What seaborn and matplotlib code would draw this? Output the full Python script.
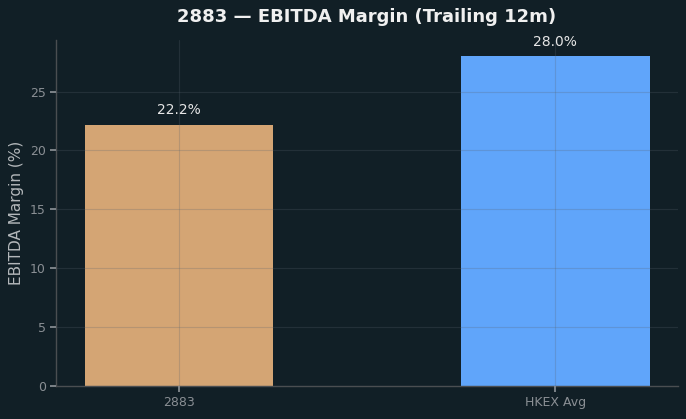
import pandas as pd
import seaborn as sns
import matplotlib.pyplot as plt

categorias = ['2883', 'HKEX Avg']
margens = [22.2, 28.0]
cores = ['#D4A574', '#60A5FA']

df = pd.DataFrame({'categoria': categorias, 'margem': margens})

fundo = '#111f26'
sns.set_theme(style='dark')
plt.rcParams['font.family'] = ['DejaVu Sans']

fig, ax = plt.subplots(figsize=(6.86, 4.19), dpi=100)
fig.patch.set_facecolor(fundo)
ax.set_facecolor(fundo)

sns.barplot(data=df, x='categoria', y='margem', hue='categoria',
            palette=cores, width=0.5, legend=False, ax=ax, saturation=1,
            linewidth=0, edgecolor='none')

for i, v in enumerate(margens):
    ax.text(i, v + 0.6, f'{v:.1f}%', ha='center', va='bottom',
            color='#e6e6e6', fontsize=10)

ax.set_xlim(-0.325, 1.325)
ax.set_axisbelow(False)
ax.grid(True, color='#5a6570', alpha=0.25, linewidth=0.8)
ax.set_title('2883 — EBITDA Margin (Trailing 12m)', color='#f0f0f0',
             fontsize=13, fontweight='bold', pad=13)
ax.set_xlabel('')
ax.set_ylabel('EBITDA Margin (%)', color='#b4b8bb', fontsize=11)
ax.tick_params(colors='#8a8f94', labelsize=9, length=4, left=True, bottom=True)
for s in ['top', 'right']:
    ax.spines[s].set_visible(False)
for s in ['left', 'bottom']:
    ax.spines[s].set_color('#4a4e51')
    ax.spines[s].set_linewidth(1)

plt.subplots_adjust(left=0.082, right=0.988, top=0.905, bottom=0.079)
plt.savefig('out.png', dpi=100, facecolor=fundo)
